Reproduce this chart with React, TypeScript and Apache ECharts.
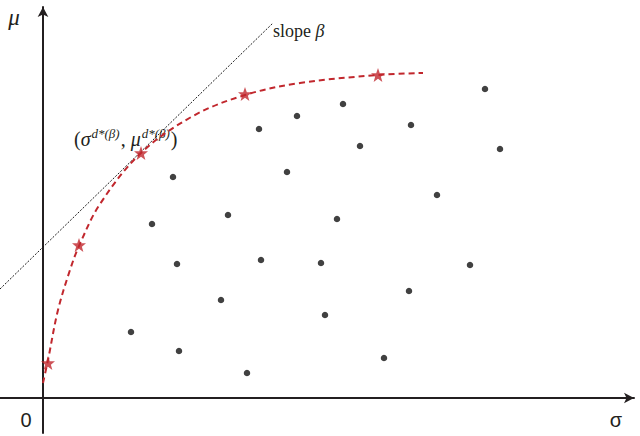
import React, { useEffect, useRef } from "react";
import * as echarts from "echarts";

// Portfolio points (sigma, mu) in chart units
const portfolioPoints: [number, number][] = [
  [442, 309], [300, 294], [254, 282], [216, 269], [368, 273], [317, 252],
  [457, 249], [130, 221], [244, 226], [394, 203], [185, 183], [294, 179],
  [109, 174], [134, 134], [218, 138], [278, 135], [427, 133], [366, 107],
  [178, 98], [282, 83], [88, 66], [136, 47], [341, 40], [204, 25],
];

// Efficient frontier (dashed red curve)
const frontierPoints: [number, number][] = [
  [0, 15], [5, 38], [15, 88], [27, 128], [36, 152], [57, 194],
  [98, 245], [150, 282], [202, 303], [257, 315], [335, 323], [380, 325],
];

// Highlighted frontier portfolios (stars)
const starPoints: [number, number][] = [
  [5, 35], [36, 153], [98, 245], [202, 304], [335, 323],
];

// Tangent line with slope beta
const tangentLine: [number, number][] = [
  [-43, 109], [230, 375],
];

const X_MIN = -43;
const X_MAX = 591;
const Y_MIN = -35;
const Y_MAX = 391;

const STAR =
  "path://M12 0 L14.9 8.1 L23.4 8.3 L16.7 13.5 L19.1 21.7 L12 16.8 L4.9 21.7 L7.3 13.5 L0.6 8.3 L9.1 8.1 Z";

const INK = "#231f20";
const RED = "#c1272d";

export default function App() {
  const ref = useRef<HTMLDivElement>(null);

  useEffect(() => {
    if (!ref.current) return;
    const chart = echarts.init(ref.current, null, { renderer: "svg" });
    const axisCommon = {
      type: "value" as const,
      axisLine: {
        show: true,
        onZero: true,
        symbol: ["none", "arrow"],
        symbolSize: [8, 10],
        lineStyle: { color: INK, width: 2 },
      },
      axisTick: { show: false },
      axisLabel: { show: false },
      splitLine: { show: false },
    };
    chart.setOption({
      animation: false,
      backgroundColor: "#ffffff",
      grid: { left: 0, right: 6, top: 7, bottom: 3, containLabel: false },
      xAxis: { ...axisCommon, min: X_MIN, max: X_MAX },
      yAxis: { ...axisCommon, min: Y_MIN, max: Y_MAX },
      series: [
        {
          type: "line",
          data: tangentLine,
          clip: false,
          showSymbol: false,
          silent: true,
          lineStyle: { color: "#1a1a1a", width: 1, type: [2, 1.5] },
          z: 2,
        },
        {
          type: "line",
          data: frontierPoints,
          smooth: 0.35,
          showSymbol: false,
          silent: true,
          lineStyle: { color: RED, width: 2, type: [6, 4] },
          z: 3,
        },
        {
          type: "scatter",
          data: portfolioPoints,
          symbol: "circle",
          symbolSize: 6.5,
          itemStyle: { color: "#111111" },
          z: 4,
        },
        {
          type: "scatter",
          data: starPoints,
          symbol: STAR,
          symbolSize: 14,
          itemStyle: { color: RED },
          z: 5,
        },
      ],
      graphic: [
        {
          type: "text",
          x: 14,
          y: 17,
          style: {
            text: "μ",
            font: 'italic 23px "Liberation Serif"',
            fill: INK,
            align: "center",
            verticalAlign: "middle",
          },
        },
        {
          type: "text",
          x: 273,
          y: 31,
          style: {
            text: "{a|slope }{b|β}",
            fill: INK,
            align: "left",
            verticalAlign: "middle",
            rich: {
              a: { fontFamily: "Liberation Serif", fontSize: 18, fill: INK },
              b: { fontFamily: "Liberation Serif", fontStyle: "italic", fontSize: 18, fill: INK },
            },
          },
        },
        {
          type: "text",
          x: 74,
          y: 139,
          style: {
            text: "{p|(}{v|σ}{s|d*(β)}{p|, }{v|μ}{s|d*(β)}{p|)}",
            fill: INK,
            align: "left",
            verticalAlign: "middle",
            rich: {
              p: { fontFamily: "Liberation Serif", fontSize: 20, lineHeight: 24, fill: INK },
              v: { fontFamily: "Liberation Serif", fontStyle: "italic", fontSize: 20, lineHeight: 24, fill: INK },
              s: {
                fontFamily: "Liberation Serif",
                fontStyle: "italic",
                fontSize: 13,
                lineHeight: 14,
                verticalAlign: "top",
                padding: [0, 1, 0, 1],
                fill: INK,
              },
            },
          },
        },
        {
          type: "text",
          x: 26,
          y: 420,
          style: {
            text: "0",
            font: '20px "Liberation Sans"',
            fill: INK,
            align: "center",
            verticalAlign: "middle",
          },
        },
        {
          type: "text",
          x: 616,
          y: 420,
          style: {
            text: "σ",
            font: '20px "Liberation Sans"',
            fill: INK,
            align: "center",
            verticalAlign: "middle",
          },
        },
      ],
    });
    return () => chart.dispose();
  }, []);

  return (
    <div
      ref={ref}
      style={{ position: "fixed", left: 0, top: 0, width: 640, height: 436, background: "#fff" }}
    />
  );
}
